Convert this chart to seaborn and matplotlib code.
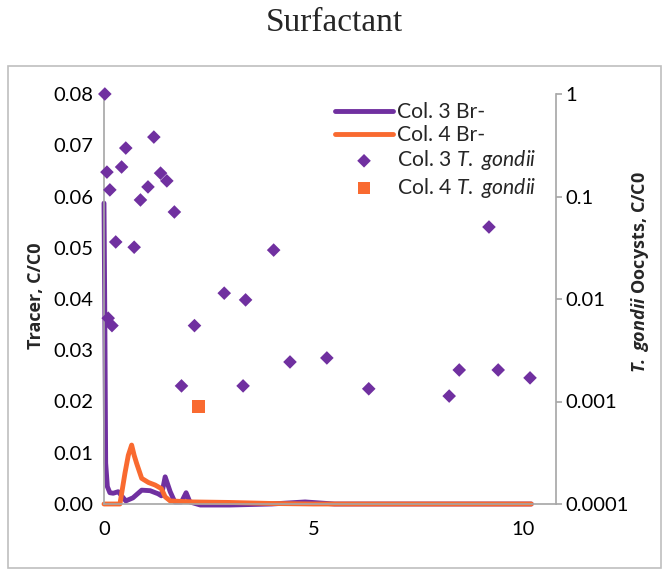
import matplotlib
matplotlib.use("Agg")
import matplotlib.pyplot as plt
import seaborn as sns
from matplotlib.patches import Rectangle
from matplotlib.ticker import FixedLocator, NullLocator

# Col. 3 bromide tracer (left axis)
br3_t = [0, 0.02, 0.04, 0.08, 0.14, 0.22, 0.34, 0.52, 0.69, 0.9, 1.1, 1.29, 1.37,
         1.46, 1.58, 1.69, 1.85, 1.96, 2.05, 2.3, 3.0, 4.0, 4.8, 5.5, 7.0, 10.2]
br3_c = [0.0587, 0.036, 0.008, 0.0034, 0.0022, 0.0021, 0.0024, 0.0006, 0.0012, 0.0027,
         0.0026, 0.002, 0.0016, 0.0053, 0.0024, 0.0004, 0.0004, 0.0022, 0.0004, -0.0002,
         -0.0002, 0.0, 0.0004, 0.0, 0.0, 0.0]

# Col. 4 bromide tracer (left axis)
br4_t = [0, 0.38, 0.5, 0.58, 0.66, 0.72, 0.78, 0.9, 1.06, 1.22, 1.37, 1.46, 1.58,
         2.13, 3.0, 4.0, 5.0, 10.2]
br4_c = [0, 0, 0.006, 0.0095, 0.0115, 0.0095, 0.0079, 0.005, 0.0042, 0.0037, 0.003,
         0.0014, 0.0006, 0.0004, 0.0003, 0.0001, 0.0, 0.0]

# Col. 3 T. gondii oocysts (right log axis)
tg3_t = [0.02, 0.07, 0.14, 0.1, 0.19, 0.28, 0.42, 0.52, 0.72, 0.87, 1.05, 1.19, 1.35,
         1.5, 1.68, 1.85, 2.16, 2.87, 3.32, 3.38, 4.05, 4.44, 5.32, 6.32, 8.24, 8.48,
         9.41, 9.19, 10.17]
tg3_c = [1.0, 0.173, 0.116, 0.0065, 0.0055, 0.036, 0.194, 0.297, 0.032, 0.0925, 0.124,
         0.38, 0.169, 0.142, 0.0706, 0.00142, 0.0055, 0.0114, 0.00142, 0.0098, 0.030,
         0.00243, 0.00266, 0.00133, 0.00113, 0.00203, 0.00203, 0.0504, 0.0017]

# Col. 4 T. gondii oocysts (right log axis)
tg4_t = [2.26]
tg4_c = [0.00089]

purple = "#7030A0"
orange = "#F96A30"
grey = "#A6A6A6"

sns.set_style("white")
plt.rcParams["font.family"] = ["Lato", "DejaVu Sans"]
plt.rcParams["mathtext.fontset"] = "custom"
plt.rcParams["mathtext.rm"] = "Lato"
plt.rcParams["mathtext.it"] = "Lato:italic"
plt.rcParams["mathtext.bf"] = "Open Sans:bold"
plt.rcParams["mathtext.bfit"] = "Open Sans:italic:bold"

fig = plt.figure(figsize=(6.69, 5.71), dpi=100)
ax = fig.add_axes([104 / 669, 1 - 504 / 571, (556 - 104) / 669, (504 - 94) / 571])
ax2 = ax.twinx()

sns.lineplot(x=br3_t, y=br3_c, ax=ax, color=purple, linewidth=3.5,
             label="Col. 3 Br-", legend=False)
sns.lineplot(x=br4_t, y=br4_c, ax=ax, color=orange, linewidth=3.5,
             label="Col. 4 Br-", legend=False)
for ln in ax.lines:
    ln.set_solid_capstyle("round")
    ln.set_solid_joinstyle("round")
    ln.set_clip_on(False)

sns.scatterplot(x=tg3_t, y=tg3_c, ax=ax2, marker="D", s=48, color=purple,
                edgecolor="none", legend=False)
sns.scatterplot(x=tg4_t, y=tg4_c, ax=ax2, marker="s", s=85, color=orange,
                edgecolor="none", legend=False)
for c in ax2.collections:
    c.set_clip_on(False)

ax.set_xlim(0, 10.79)
ax.set_ylim(0, 0.08)
ax.set_yticks([i / 100 for i in range(9)])
ax.set_yticklabels([f"{i / 100:.2f}" for i in range(9)])
ax.set_xticks([0, 5, 10])
ax.set_xticklabels(["0", "5", "10"])

ax2.set_yscale("log")
ax2.set_ylim(0.0001, 1)
ax2.yaxis.set_major_locator(FixedLocator([0.0001, 0.001, 0.01, 0.1, 1]))
ax2.yaxis.set_minor_locator(NullLocator())
ax2.set_yticklabels(["0.0001", "0.001", "0.01", "0.1", "1"])

for a in (ax, ax2):
    a.spines["top"].set_visible(False)
    for s in a.spines.values():
        s.set_color(grey)
        s.set_linewidth(1.2)
ax.spines["right"].set_visible(False)
ax2.spines["left"].set_visible(False)
ax2.spines["bottom"].set_visible(False)

ax.tick_params(axis="both", length=0, labelsize=14.5, pad=8, colors="black")
ax.tick_params(axis="x", pad=12)
ax2.tick_params(axis="y", length=4, width=1.2, color=grey, labelsize=14.5,
                pad=3, labelcolor="black")
ax.set_ylabel("")
ax2.set_ylabel("")

fig.text(36 / 669, 1 - 296 / 571, "Tracer, C/C0", rotation=90, ha="center",
         va="center", fontsize=13, fontweight="bold", family="Open Sans")
fig.text(640 / 669, 1 - 272 / 571, r"$\mathbfit{T.\ gondii}$ Oocysts, C/C0",
         rotation=90, ha="center", va="center", fontsize=13, fontweight="bold",
         family="Open Sans")

fig.text(0.5, 1 - 23 / 571, "Surfactant", ha="center", va="center",
         fontsize=24, family="Liberation Serif")

handles = ax.lines[:2] + ax2.collections[:2]
labels = ["Col. 3 Br-", "Col. 4 Br-",
          r"Col. 3 $\mathit{T.\ gondii}$", r"Col. 4 $\mathit{T.\ gondii}$"]
ax2.legend(handles, labels, loc="upper left", bbox_to_anchor=(335 / 669, 1 - 102 / 571),
           bbox_transform=fig.transFigure, frameon=False, fontsize=15.2,
           handlelength=2.75, handletextpad=0.2, labelspacing=0.15,
           borderpad=0, borderaxespad=0)

fig.patches.append(Rectangle((8 / 669, 1 - 568 / 571), (661 - 8) / 669, (568 - 66) / 571,
                             transform=fig.transFigure, fill=False,
                             edgecolor="#BFBFBF", linewidth=1.2))

fig.savefig("out.png", dpi=100)
